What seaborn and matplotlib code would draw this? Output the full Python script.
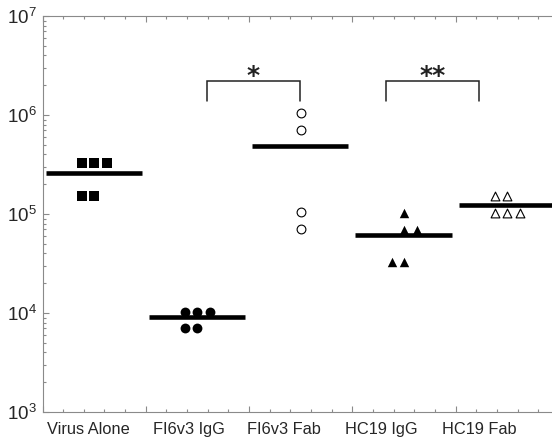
import numpy as np
import pandas as pd
import matplotlib
matplotlib.use("Agg")
import matplotlib.pyplot as plt
import matplotlib.ticker as mticker
import seaborn as sns

# ---------------- data ----------------
categories = ["Virus Alone", "FI6v3 IgG", "FI6v3 Fab", "HC19 IgG", "HC19 Fab"]
virus_alone = [3.3e5, 3.3e5, 3.3e5, 1.53e5, 1.53e5]
fi6v3_igg = [1.03e4, 1.03e4, 1.03e4, 7.1e3, 7.1e3]
fi6v3_fab = [1.05e6, 7.05e5, 1.04e5, 7.05e4]
hc19_igg = [1.03e5, 6.9e4, 6.9e4, 3.3e4, 3.3e4]
hc19_fab = [1.52e5, 1.52e5, 1.03e5, 1.03e5, 1.03e5]
y_ticks = [1e3, 1e4, 1e5, 1e6, 1e7]
significance = ["*", "**"]

series = [virus_alone, fi6v3_igg, fi6v3_fab, hc19_igg, hc19_fab]

# ---------------- layout / style ----------------
slots = [[-1, 0, 1, -1, 0],
         [-1, 0, 1, -1, 0],
         [0, 0, 0, 0],
         [0, 0, 1, -1, 0],
         [-1, 0, -1, 0, 1]]
slot_w = 0.121
markers = ["s", "o", "o", "^", "^"]
faces = ["black", "black", "white", "black", "white"]
sizes = [46, 50, 40, 46, 40]
edge_w = [0, 0, 0.8, 0, 0.8]
label_pos = [0.445, 1.418, 2.338, 3.277, 4.226]

sns.set_style("white")
plt.rcParams["font.family"] = ["Liberation Sans", "DejaVu Sans"]
plt.rcParams["mathtext.fontset"] = "custom"
plt.rcParams["mathtext.rm"] = "Liberation Sans"
plt.rcParams["mathtext.it"] = "Liberation Sans:italic"
plt.rcParams["mathtext.bf"] = "Liberation Sans:bold"

rows = []
for gi, (cat, vals) in enumerate(zip(categories, series)):
    for v, s in zip(vals, slots[gi]):
        rows.append({"group": cat, "value": v, "x": gi + 0.5 + s * slot_w})
df = pd.DataFrame(rows)

fig = plt.figure(figsize=(5.52, 4.40), dpi=100)
ax = fig.add_axes([42.5 / 552, 28 / 440, 516.5 / 552, 396 / 440])

for gi, cat in enumerate(categories):
    sub = df[df["group"] == cat]
    sns.scatterplot(data=sub, x="x", y="value", marker=markers[gi], s=sizes[gi],
                    color=faces[gi], edgecolor="black", linewidth=edge_w[gi],
                    ax=ax, legend=False, zorder=3)

means = df.groupby("group", sort=False)["value"].mean()
for gi, cat in enumerate(categories):
    ax.hlines(means[cat], gi + 0.03, gi + 0.96, color="black", lw=3.3, zorder=2)

ax.set_yscale("log")
ax.set_ylim(1e3, 1e7)
ax.set_xlim(0, 5)
ax.set_yticks(y_ticks)
ax.yaxis.set_major_formatter(mticker.LogFormatterSciNotation())
ax.yaxis.set_minor_locator(mticker.LogLocator(base=10, subs=np.arange(2, 10)))
ax.yaxis.set_minor_formatter(mticker.NullFormatter())
ax.set_xticks(np.arange(0, 6))
ax.set_xticklabels([])
ax.xaxis.set_minor_locator(mticker.MultipleLocator(0.2))
ax.set_xlabel("")
ax.set_ylabel("")

spine_c = "#8a8a8a"
for sp in ["left", "top", "bottom"]:
    ax.spines[sp].set_color(spine_c)
    ax.spines[sp].set_linewidth(0.8)
ax.spines["right"].set_visible(False)
ax.tick_params(axis="both", which="both", direction="in", color=spine_c, width=0.8)
ax.tick_params(axis="x", which="both", top=True, bottom=True)
ax.tick_params(axis="y", which="both", left=True, right=False)
ax.tick_params(which="major", length=4)
ax.tick_params(which="minor", length=2.2)
ax.tick_params(axis="y", which="major", labelsize=13.5, pad=4)

sec = ax.secondary_xaxis("bottom")
sec.set_xticks(label_pos)
sec.set_xticklabels(categories)
sec.tick_params(length=0, labelsize=11.8, pad=7)
sec.spines["bottom"].set_visible(False)

# significance brackets
br_top, br_end = 2.22e6, 1.38e6
brackets = [(1.59, 2.49), (3.33, 4.23)]
for (x0, x1), lab in zip(brackets, significance):
    ax.plot([x0, x0, x1, x1], [br_end, br_top, br_top, br_end], color="#222222", lw=1.1,
            solid_joinstyle="miter", clip_on=False)
    ax.text((x0 + x1) / 2, 2.5e6, lab, ha="center", va="center", fontsize=18,
            fontweight="bold", family="DejaVu Sans", color="#222222")

fig.savefig("out.png", dpi=100)
